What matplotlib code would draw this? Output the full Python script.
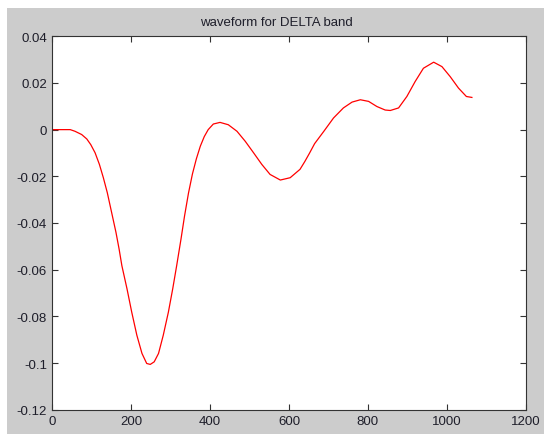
import numpy as np
import matplotlib.pyplot as plt
from matplotlib.patches import Rectangle

# points
sample = [0, 20, 45, 57, 74, 87, 97, 108, 119, 129, 139, 150, 161, 169, 176,
          189, 201, 214, 227, 239, 248, 258, 269, 281, 294, 305, 315, 326,
          335, 345, 355, 365, 375, 385, 395, 408, 425, 446, 468, 489, 510,
          531, 552, 578, 603, 628, 640, 652, 665, 688, 713, 738, 760, 781,
          802, 823, 844, 857, 878, 899, 920, 941, 967, 988, 1009, 1030, 1050,
          1064]
amplitude = [0.0, 0.0, 0.0, -0.0007, -0.0021, -0.0040, -0.0064, -0.0099,
             -0.0149, -0.0206, -0.0270, -0.0355, -0.0440, -0.0512, -0.0583,
             -0.0682, -0.0782, -0.0881, -0.0959, -0.1002, -0.1006, -0.0995,
             -0.0959, -0.0881, -0.0782, -0.0682, -0.0583, -0.0469, -0.0370,
             -0.0272, -0.0190, -0.0125, -0.0071, -0.0030, 0.0000, 0.0024,
             0.0031, 0.0021, -0.0007, -0.0050, -0.0099, -0.0149, -0.0192,
             -0.0216, -0.0206, -0.0170, -0.0137, -0.0101, -0.0060, -0.0008,
             0.0050, 0.0093, 0.0118, 0.0128, 0.0121, 0.0099, 0.0084, 0.0082,
             0.0093, 0.0142, 0.0206, 0.0263, 0.0289, 0.0270, 0.0227, 0.0178,
             0.0142, 0.0138]

xticks = [0, 200, 400, 600, 800, 1000, 1200]
yticks = [-0.12, -0.1, -0.08, -0.06, -0.04, -0.02, 0, 0.02, 0.04]
ylabels = ['-0.12', '-0.1', '-0.08', '-0.06', '-0.04', '-0.02', '0', '0.02', '0.04']

plt.rcParams['font.family'] = ['Liberation Sans', 'DejaVu Sans']
txt = '#1e1e2a'

fig = plt.figure(figsize=(5.44, 4.35), dpi=100, facecolor='white')
fig.patches.append(Rectangle((7 / 544, 0), 1, 1 - 9 / 435, transform=fig.transFigure,
                             facecolor='#cccccc', edgecolor='none', zorder=-1))

ax = fig.add_axes([0.0965, 0.0559, 0.8695, 0.8584])
ax.plot(sample, amplitude, color='red', linewidth=0.9)

ax.set_xlim(0, 1200)
ax.set_ylim(-0.12, 0.04)
ax.set_xticks(xticks)
ax.set_yticks(yticks)
ax.set_yticklabels(ylabels)
ax.tick_params(direction='in', length=4.5, width=0.8, top=True, right=True,
               labelsize=9.5, colors='#333333', labelcolor=txt, pad=4)
for s in ax.spines.values():
    s.set_linewidth(0.8)
    s.set_color('#333333')

ax.text(0.4725, 1.0 + 14 / 373, 'waveform for DELTA band', transform=ax.transAxes,
        ha='center', va='center', fontsize=9.5, color=txt)

fig.savefig('out.png', dpi=100, facecolor=fig.get_facecolor())
